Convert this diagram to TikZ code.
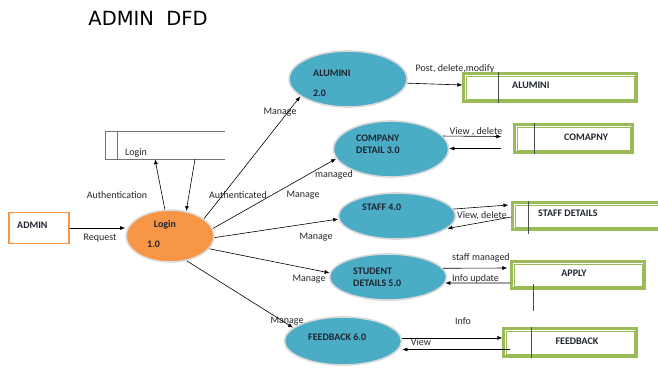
\documentclass[tikz,border=0pt]{standalone}
\usepackage{fontspec}
\setmainfont{Carlito}
\newfontfamily\titlefont{DejaVu Sans}
\usetikzlibrary{shapes.geometric, arrows.meta, calc}

\definecolor{procblue}{HTML}{4BACC6}
\definecolor{loginorange}{HTML}{F79646}
\definecolor{storegreen}{HTML}{9BBB59}
\definecolor{txtdark}{HTML}{1F2530}

\begin{document}
\begin{tikzpicture}[x=1pt, y=-1pt, >={Latex[length=5pt, width=4pt]},
	proc/.style={ellipse, fill=procblue, draw=gray!30, line width=1.6pt, inner sep=0pt},
	proctext/.style={font=\fontsize{10}{12}\selectfont\bfseries, text=txtdark, inner sep=0pt},
	store/.style={rectangle, fill=white, draw=storegreen, line width=2.2pt, inner sep=0pt},
	lbl/.style={font=\fontsize{10}{12}\selectfont, text=black!85, inner sep=0pt},
	arr/.style={->, line width=0.6pt},
	divider/.style={draw=black!70, line width=0.9pt}]

	\useasboundingbox (0,0) rectangle (658,368);

	\node[font=\titlefont\fontsize{19.5}{22}\selectfont, text=black] (title) at (148,18) {ADMIN\ \ DFD};

	% entity and login process
	\node[draw=loginorange, fill=white, line width=1.5pt, minimum width=60, minimum height=31, inner sep=0pt] (admin) at (39,228) {};
	\node[proctext, anchor=west] (admint) at (17,225) {ADMIN};

	\node[ellipse, fill=loginorange, draw=gray!25, line width=1.6pt, minimum width=88, minimum height=52, inner sep=0pt] (login) at (170,236) {};
	\node[proctext] (logint) at (165,225) {Login};
	\node[proctext, anchor=west] (loginn) at (147,244) {1.0};

	% login store (open box)
	\node[minimum width=119, minimum height=27, inner sep=0pt] (loginstore) at (165.5,145.5) {};
	\draw[draw=black!55, line width=0.7pt] (loginstore.north east) -- (loginstore.north west)
		-- (loginstore.south west) -- (loginstore.south east);
	\draw[draw=black!55, line width=0.7pt] ([xshift=12]loginstore.north west) -- ([xshift=12]loginstore.south west);
	\node[lbl, anchor=west] (loginstoret) at (125,153) {Login};

	% processes
	\node[proc, minimum width=118, minimum height=56] (alumni) at (348,79) {};
	\node[proc, minimum width=115, minimum height=56] (company) at (391,149) {};
	\node[proc, minimum width=117, minimum height=46] (staff) at (397,216) {};
	\node[proc, minimum width=117, minimum height=46] (student) at (388,277) {};
	\node[proc, minimum width=117, minimum height=48] (feedback) at (343,341) {};

	\node[proctext, anchor=west] (alumnit) at (313,73) {ALUMINI};
	\node[proctext, anchor=west] (alumnin) at (313,93) {2.0};
	\node[proctext, anchor=west] (companyt) at (356,138) {COMPANY};
	\node[proctext, anchor=west] (companyn) at (356,150) {DETAIL 3.0};
	\node[proctext, anchor=west] (stafft) at (362,207) {STAFF 4.0};
	\node[proctext, anchor=west] (studentt) at (353,271) {STUDENT};
	\node[proctext, anchor=west] (studentn) at (353,283) {DETAILS 5.0};
	\node[proctext, anchor=west] (feedbackt) at (308,337) {FEEDBACK 6.0};

	% labels
	\node[lbl] (request) at (100,238) {Request};
	\node[lbl] (authn) at (117,195) {Authentication};
	\node[lbl] (authd) at (238,195) {Authenticated};
	\node[lbl] (manage1) at (280,112) {Manage};
	\node[lbl] (manage2) at (303,195) {Manage};
	\node[lbl] (managed) at (334,175) {managed};
	\node[lbl] (manage3) at (316,237) {Manage};
	\node[lbl] (manage4) at (309,279) {Manage};
	\node[lbl] (manage5) at (287,321) {Manage};
	\node[lbl] (post) at (455,69) {Post, delete,modify};
	\node[lbl] (viewdel1) at (476,132) {View , delete};
	\node[lbl, anchor=west] (viewdel2) at (457,216) {View, delete};
	\node[lbl, anchor=west] (staffman) at (452,258) {staff managed};
	\node[lbl, anchor=west] (infoup) at (452,279) {Info update};
	\node[lbl] (view) at (421,342) {View};
	\node[lbl] (info) at (463,321) {Info};

	% data stores
	\node[store, minimum width=173, minimum height=28] (alumnistore) at (550,87.5) {};
	\node[store, minimum width=118, minimum height=28] (comapny) at (573.5,138.5) {};
	\node[store, minimum width=166, minimum height=27] (staffstore) at (595.5,216) {};
	\node[store, minimum width=133, minimum height=27] (apply) at (578,275) {};
	\node[store, minimum width=133, minimum height=28] (fbstore) at (570,342.5) {};

	% thin inner frame of each store
	\foreach \s in {alumnistore, comapny, staffstore, apply, fbstore}
		\draw[storegreen, line width=0.7pt]
			([shift={(3.6,3.6)}]\s.north west) rectangle ([shift={(-3.6,-3.6)}]\s.south east);

	\draw[divider] ([xshift=36.5]alumnistore.north west) -- ([xshift=36.5]alumnistore.south west);
	\draw[divider] ([xshift=21.5]comapny.north west) -- ([xshift=21.5]comapny.south west);
	\draw[divider] ([xshift=17.5]staffstore.north west) -- ([xshift=17.5,yshift=-3.5]staffstore.south west);
	\draw[divider] ([xshift=-45,yshift=5.5]apply.south) -- ([xshift=-45,yshift=-21.5]apply.south);
	\draw[divider] ([xshift=29.5]fbstore.north west) -- ([xshift=29.5]fbstore.south west);

	\node[proctext, anchor=west] (alumnistoret) at (512,85) {ALUMINI};
	\node[proctext, anchor=west] (comapnyt) at (564,137) {COMAPNY};
	\node[proctext, anchor=west] (staffstoret) at (538,213) {STAFF DETAILS};
	\node[proctext] (applyt) at (574,273) {APPLY};
	\node[proctext] (fbstoret) at (577,341) {FEEDBACK};

	% flows around login
	\draw[arr] (admin.east) -- (admin.east -| login.west);
	\draw[arr] (login.101) -- ([xshift=-10.5]loginstore.south);
	\draw[arr] ([xshift=29.5]loginstore.south) -- (login.57);

	\draw[arr] (login.27) -- (alumni.200);
	\draw[arr] (login.10) -- (company.190);
	\draw[arr] (login.-2) -- (staff.183);
	\draw[arr] (login.-18) -- (student.176);
	\draw[arr] (login.-56) -- (feedback.165);

	% flows to the stores
	\draw[arr] (alumni.-4) -- ([yshift=2.5]alumnistore.west);

	\draw[arr] (company.14) -- ([xshift=-12,yshift=2]comapny.west);
	\coordinate (compin) at ([xshift=-12,yshift=-10]comapny.west);
	\draw[arr] (compin) -- (compin -| company.east);

	\draw[arr] (staff.7) -- ([xshift=-3,yshift=11]staffstore.west);
	\draw[arr] ([yshift=-1]staffstore.west) -- (staff.-14);

	\draw[arr] (student.9) -- ([xshift=-3,yshift=7]apply.west);
	\draw[arr] ([yshift=-8]apply.west) -- (student.-6);

	\draw[arr] (feedback.3) -- (feedback.3 -| fbstore.west);
	\coordinate (fbin) at ([xshift=8,yshift=-7]fbstore.west);
	\draw[arr] (fbin) -- (fbin -| feedback.east);

\end{tikzpicture}
\end{document}
